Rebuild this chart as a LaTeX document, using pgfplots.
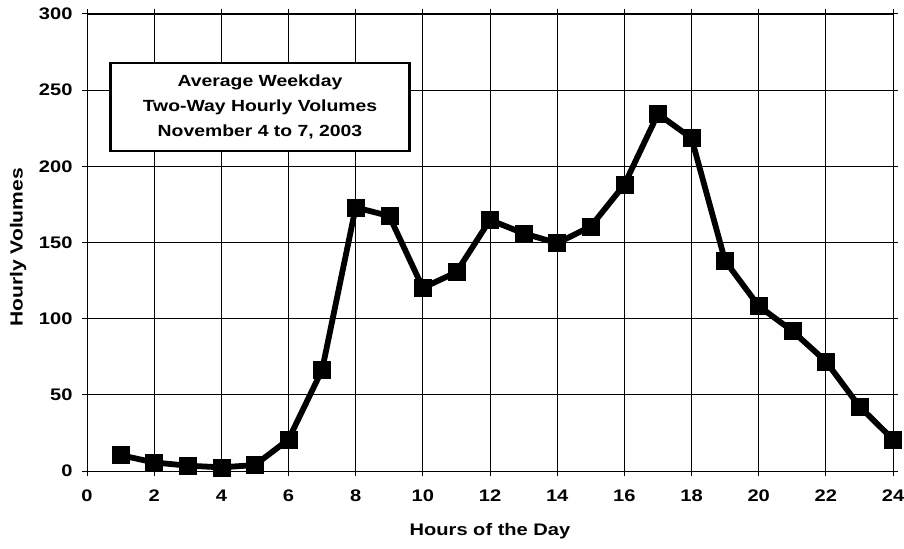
\documentclass[border=0pt]{standalone}
\usepackage{pgfplots}
\pgfplotsset{compat=1.18}
\usetikzlibrary{calc}
\usepackage{fontspec}
\setmainfont{Liberation Sans}[FakeStretch=1.2]
\begin{document}
\begin{tikzpicture}
\begin{axis}[
  scale only axis,
  width=806bp, height=457bp,
  xmin=0, xmax=24, ymin=0, ymax=300,
  xtick={0,2,...,24}, ytick={0,50,...,300},
  grid=major,
  major grid style={black, line width=0.9pt},
  axis line style={black, line width=1pt},
  tick align=outside,
  major tick length=5bp,
  tick style={black, line width=1pt},
  /pgf/number format/assume math mode=true,
  ticklabel style={font=\fontsize{16.8}{19}\selectfont\bfseries},
  xticklabel style={anchor=center, yshift=-25bp+5bp},
  yticklabel style={anchor=east, xshift=-11bp+5bp},
  clip=false,
]
\addplot[black, line width=5.8bp, mark=square*, mark size=8.5bp, mark options={solid, line width=0.5bp}] coordinates {
(1,10.4) (2,5.6) (3,3.5) (4,2.4) (5,3.9) (6,20.7) (7,66.3) (8,173) (9,167.4)
(10,120.2) (11,130.5) (12,164.8) (13,156) (14,149.6) (15,160.5) (16,188)
(17,234.4) (18,218.5) (19,138) (20,108.3) (21,92) (22,72) (23,42.4) (24,20.7)
};
\node[draw=black, line width=2.7bp, fill=white, align=center, inner sep=0pt,
  minimum width=299bp, minimum height=88bp,
  font=\fontsize{16.2}{25}\selectfont\bfseries]
  at (axis cs:5.15,239) {Average Weekday\\Two-Way Hourly Volumes\\November 4 to 7, 2003};
\end{axis}
\node[font=\fontsize{16.8}{19}\selectfont\bfseries] at ($(current axis.south)+(0,-60bp)$) {Hours of the Day};
\node[rotate=90, font=\fontsize{17.6}{19}\selectfont\bfseries] at ($(current axis.west)+(-69bp,-5bp)$) {Hourly Volumes};
\pgfresetboundingbox
\path[use as bounding box] ($(current axis.south west)+(-87bp,-78bp)$) rectangle ($(current axis.north east)+(11bp,14bp)$);
\end{tikzpicture}
\end{document}
